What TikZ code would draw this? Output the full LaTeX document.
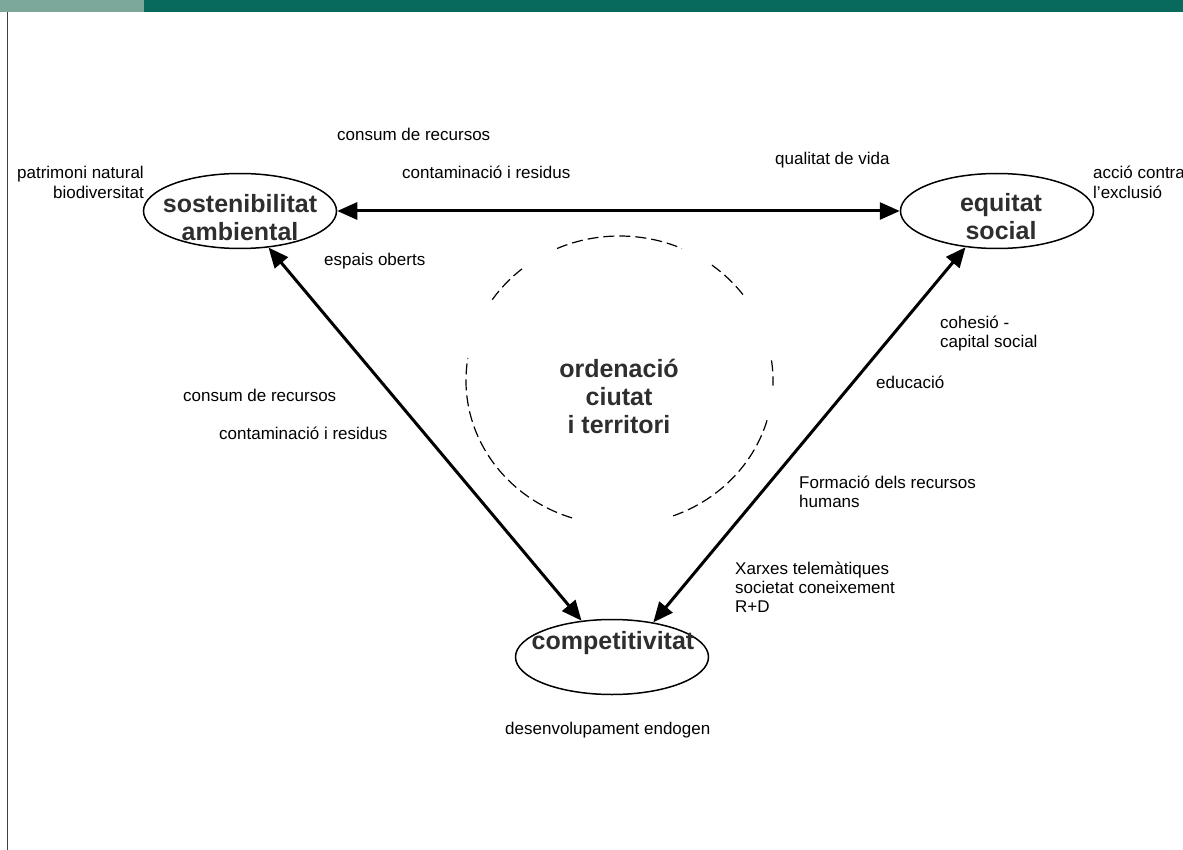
\documentclass[tikz,border=0pt]{standalone}
\usepackage{fontspec}
\setmainfont{Liberation Sans}
\usetikzlibrary{arrows.meta,shapes.geometric,calc}
\definecolor{barlight}{HTML}{7BA89B}
\definecolor{bardark}{HTML}{086A5D}
\definecolor{rulecol}{HTML}{404040}
\definecolor{headcol}{HTML}{2E2E2E}
\begin{document}
\begin{tikzpicture}[x=1pt,y=-1pt,
  lbl/.style={font=\fontsize{17}{18.7}\selectfont, inner sep=0pt, align=left},
  hd/.style={font=\fontsize{25}{28}\selectfont\bfseries, text=headcol, inner sep=0pt, align=center},
  pole/.style={ellipse, draw, line width=1.5pt, minimum width=193pt, minimum height=75pt, inner sep=0pt},
  link/.style={line width=3pt, {Triangle[length=20pt,width=17pt]}-{Triangle[length=20pt,width=17pt]}},
  ring/.style={dash pattern=on 11pt off 5pt, line width=1.2pt}]
\useasboundingbox (0,0) rectangle (1183,850);
% top bar and left rule
\fill[barlight] (0,0) rectangle (144,12);
\fill[bardark] (144,0) rectangle (1183,12);
\draw[rulecol, line width=1.6pt] (7.5,12) -- (7.5,850);
% poles
\node[pole] (sost) at (240,211) {};
\node[pole] (eq) at (997,211) {};
\node[pole] (comp) at (612,657) {};
\node[hd, anchor=base] (sostt) at (240,241) {sostenibilitat\\ambiental};
\node[hd, anchor=base] (eqt) at (1001,240) {equitat\\social};
\node[hd, anchor=base] (compt) at (613,649) {competitivitat};
\node[hd, anchor=base] (ordt) at (619,433) {ordenació\\ciutat\\i territori};
% dashed ring
\coordinate (c) at (619.5,380.5);
\foreach \a/\b in {-114/-66, -146/-129, -252/-171, -344/-289, -8/2, -53/-36}
  \draw[ring] ($(c)+(\a:153.5 and 144.5)$) arc[start angle=\a, end angle=\b, x radius=153.5, y radius=144.5];
% connectors
\draw[link] (sost.east) -- (eq.west);
\draw[link] (sost.-52) -- (comp.130);
\draw[link] (eq.-131) -- (comp.40);
% labels
\node[lbl, anchor=base west] (l1) at (337,140.5) {consum de recursos};
\node[lbl, anchor=base west] (l2) at (402,178.5) {contaminació i residus};
\node[lbl, anchor=base west] (l3) at (775,165) {qualitat de vida};
\node[lbl, anchor=base west] (l4) at (324,266) {espais oberts};
\node[lbl, anchor=base west] (l5) at (183,401.5) {consum de recursos};
\node[lbl, anchor=base west] (l6) at (219,439.5) {contaminació i residus};
\node[lbl, anchor=base west] (l7) at (876,388.5) {educació};
\node[lbl, anchor=base west] (l8) at (505,734) {desenvolupament endogen};
\node[lbl, anchor=base east, align=right, font=\fontsize{17}{20}\selectfont] (l9) at (144,198.5) {patrimoni natural\\biodiversitat};
\node[lbl, anchor=base west, font=\fontsize{17}{20}\selectfont] (l10) at (1093,198.5) {acció contra\\l’exclusió};
\node[lbl, anchor=base west] (l11) at (940,347.5) {cohesió -\\capital social};
\node[lbl, anchor=base west] (l12) at (799,507) {Formació dels recursos\\humans};
\node[lbl, anchor=base west] (l13) at (735,612) {Xarxes telemàtiques\\societat coneixement\\R+D};
\end{tikzpicture}
\end{document}
